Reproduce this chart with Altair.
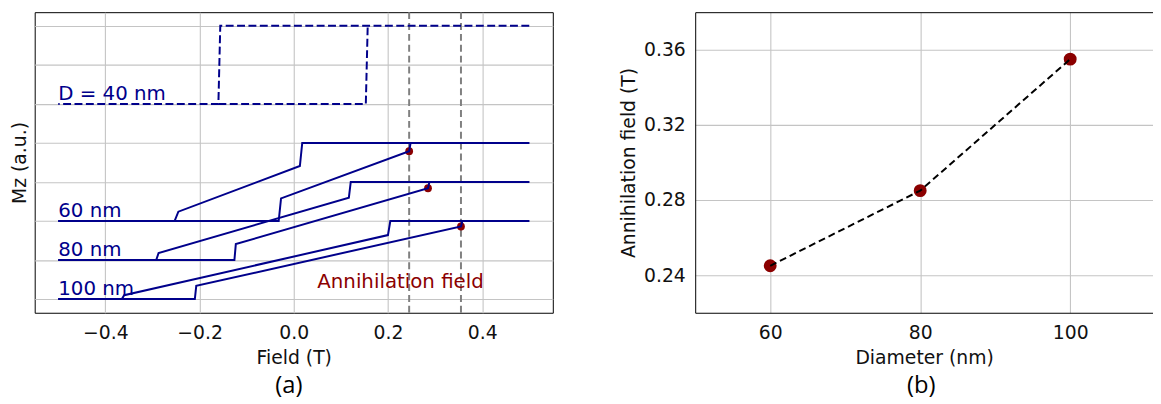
import altair as alt
import pandas as pd

# ---------------- Panel (a): hysteresis loops ----------------
# D = 40 nm (dashed) loop outline
x40_desc = [0.5, -0.156, -0.160, -0.5]
y40_desc = [7, 7, 5, 5]
x40_asc = [-0.160, 0.153, 0.157]
y40_asc = [5, 5, 7]

# D = 60 nm
x60_desc = [0.5, 0.018, 0.013, -0.245, -0.253, -0.5]
y60_desc = [4, 4, 3.41, 2.24, 2, 2]
x60_asc = [-0.5, -0.032, -0.027, 0.245, 0.248, 0.5]
y60_asc = [2, 2, 2.58, 3.79, 4, 4]

# D = 80 nm
x80_desc = [0.5, 0.121, 0.117, -0.287, -0.292, -0.5]
y80_desc = [3, 3, 2.60, 1.18, 1, 1]
x80_asc = [-0.5, -0.126, -0.123, 0.285, 0.288, 0.5]
y80_asc = [1, 1, 1.41, 2.84, 3, 3]

# D = 100 nm
x100_desc = [0.5, 0.205, 0.200, -0.360, -0.365, -0.5]
y100_desc = [2, 2, 1.64, 0.10, 0, 0]
x100_asc = [-0.5, -0.210, -0.207, 0.355, 0.358, 0.5]
y100_asc = [0, 0, 0.34, 1.86, 2, 2]

label_text = ["D = 40 nm", "60 nm", "80 nm", "100 nm"]
label_x = [-0.5, -0.5, -0.5, -0.5]
label_y = [5, 2, 1, 0]

annih_x = [0.245, 0.285, 0.355]
annih_y = [3.79, 2.84, 1.86]
vline_x = [0.245, 0.355]

note_text = ["Annihilation field"]
note_x = [0.05]
note_y = [0.29]

# ---------------- Panel (b) ----------------
diameter = [60, 80, 100]
field = [0.245, 0.285, 0.355]

BLUE = "#00008B"
RED = "#8B0000"
FONT = "DejaVu Sans"


def branch(name, xs, ys):
    return pd.DataFrame({"x": xs, "y": ys, "branch": name, "i": list(range(len(xs)))})


solid_df = pd.concat([
    branch("60 desc", x60_desc, y60_desc), branch("60 asc", x60_asc, y60_asc),
    branch("80 desc", x80_desc, y80_desc), branch("80 asc", x80_asc, y80_asc),
    branch("100 desc", x100_desc, y100_desc), branch("100 asc", x100_asc, y100_asc),
], ignore_index=True)
dashed_df = pd.concat([
    branch("40 desc", x40_desc, y40_desc), branch("40 asc", x40_asc, y40_asc),
], ignore_index=True)
labels_df = pd.DataFrame({"x": label_x, "y": label_y, "t": label_text})
annih_df = pd.DataFrame({"x": annih_x, "y": annih_y})
vline_df = pd.DataFrame({"x": vline_x})
note_df = pd.DataFrame({"x": note_x, "y": note_y, "t": note_text})

xa = alt.X("x:Q", scale=alt.Scale(domain=[-0.55, 0.55], nice=False, zero=False),
           axis=alt.Axis(values=[-0.4, -0.2, 0.0, 0.2, 0.4], format=".1f", title="Field (T)",
                         domain=False, ticks=False, tickSize=0, labelPadding=11, titlePadding=6))
ya = alt.Y("y:Q", scale=alt.Scale(domain=[-0.35, 7.35], nice=False, zero=False),
           axis=alt.Axis(values=list(range(8)), labels=False, ticks=False, tickSize=0,
                         domain=False, title="Mz (a.u.)", titlePadding=5))

rules_a = alt.Chart(vline_df).mark_rule(color="#808080", strokeWidth=2, strokeDash=[7, 4]).encode(x=xa)
dots_a = alt.Chart(annih_df).mark_circle(color=RED, opacity=1, size=62).encode(x=xa, y=ya)
solid_a = alt.Chart(solid_df).mark_line(color=BLUE, strokeWidth=2).encode(
    x=xa, y=ya, detail="branch:N", order="i:Q")
dashed_a = alt.Chart(dashed_df).mark_line(color=BLUE, strokeWidth=2, strokeDash=[8, 3.5]).encode(
    x=xa, y=ya, detail="branch:N", order="i:Q")
text_a = alt.Chart(labels_df).mark_text(align="left", baseline="alphabetic", dy=-4, font=FONT,
                                        fontSize=20, color=BLUE).encode(x=xa, y=ya, text="t:N")
note_a = alt.Chart(note_df).mark_text(align="left", baseline="alphabetic", font=FONT,
                                      fontSize=20, color=RED).encode(x=xa, y=ya, text="t:N")

left = alt.layer(rules_a, dots_a, solid_a, dashed_a, text_a, note_a).properties(
    width=524, height=304,
    title=alt.TitleParams("(a)", orient="bottom", font="Open Sans", fontSize=24, fontWeight="normal",
                          color="black", offset=7, frame="group", dx=-5),
)

# Right panel
b_df = pd.DataFrame({"d": diameter, "f": field})
xscale_b = alt.Scale(domain=[50, 111.04], nice=False, zero=False)
xb = alt.X("d:Q", scale=xscale_b,
           axis=alt.Axis(values=[60, 80, 100], format="d", title="Diameter (nm)", domain=True,
                         ticks=False, tickSize=0, labelPadding=11, titlePadding=6))
xb_none = alt.X("d:Q", scale=xscale_b, axis=None)
xb_top = alt.X("d:Q", scale=xscale_b,
               axis=alt.Axis(orient="top", labels=False, ticks=False, tickSize=0, grid=False,
                             domain=True, title=None))
yb = alt.Y("f:Q", scale=alt.Scale(domain=[0.22, 0.38], nice=False, zero=False),
           axis=alt.Axis(values=[0.24, 0.28, 0.32, 0.36], format=".2f", title="Annihilation field (T)",
                         domain=True, ticks=False, tickSize=0, labelPadding=10, titlePadding=5))

dots_b = alt.Chart(b_df).mark_circle(color=RED, opacity=1, size=170).encode(x=xb, y=yb)
line_b = alt.Chart(b_df).mark_line(color="black", strokeWidth=2, strokeDash=[7, 4]).encode(x=xb_none, y=yb)
top_b = alt.Chart(b_df).mark_point(opacity=0).encode(x=xb_top, y=yb)

right = alt.layer(dots_b, line_b, top_b).resolve_axis(x="independent").properties(
    width=463, height=304,
    view=alt.ViewBackground(stroke=None),
    title=alt.TitleParams("(b)", orient="bottom", font="Open Sans", fontSize=24, fontWeight="normal",
                          color="black", offset=7, frame="group", dx=-3),
)

chart = alt.hconcat(left, right, spacing=66).properties(
    padding={"left": 2, "top": 0, "right": 0, "bottom": 0}
).configure_axis(
    labelFont=FONT, titleFont=FONT, labelFontSize=19, titleFontSize=19, titleFontWeight="normal",
    labelColor="#111111", titleColor="#111111", gridColor="#c4c4c4", gridWidth=1.1,
    domainColor="black", domainWidth=1,
).configure_view(stroke="black", strokeWidth=1)

chart.save("out.html", embed_options={"renderer": "svg", "actions": False})
